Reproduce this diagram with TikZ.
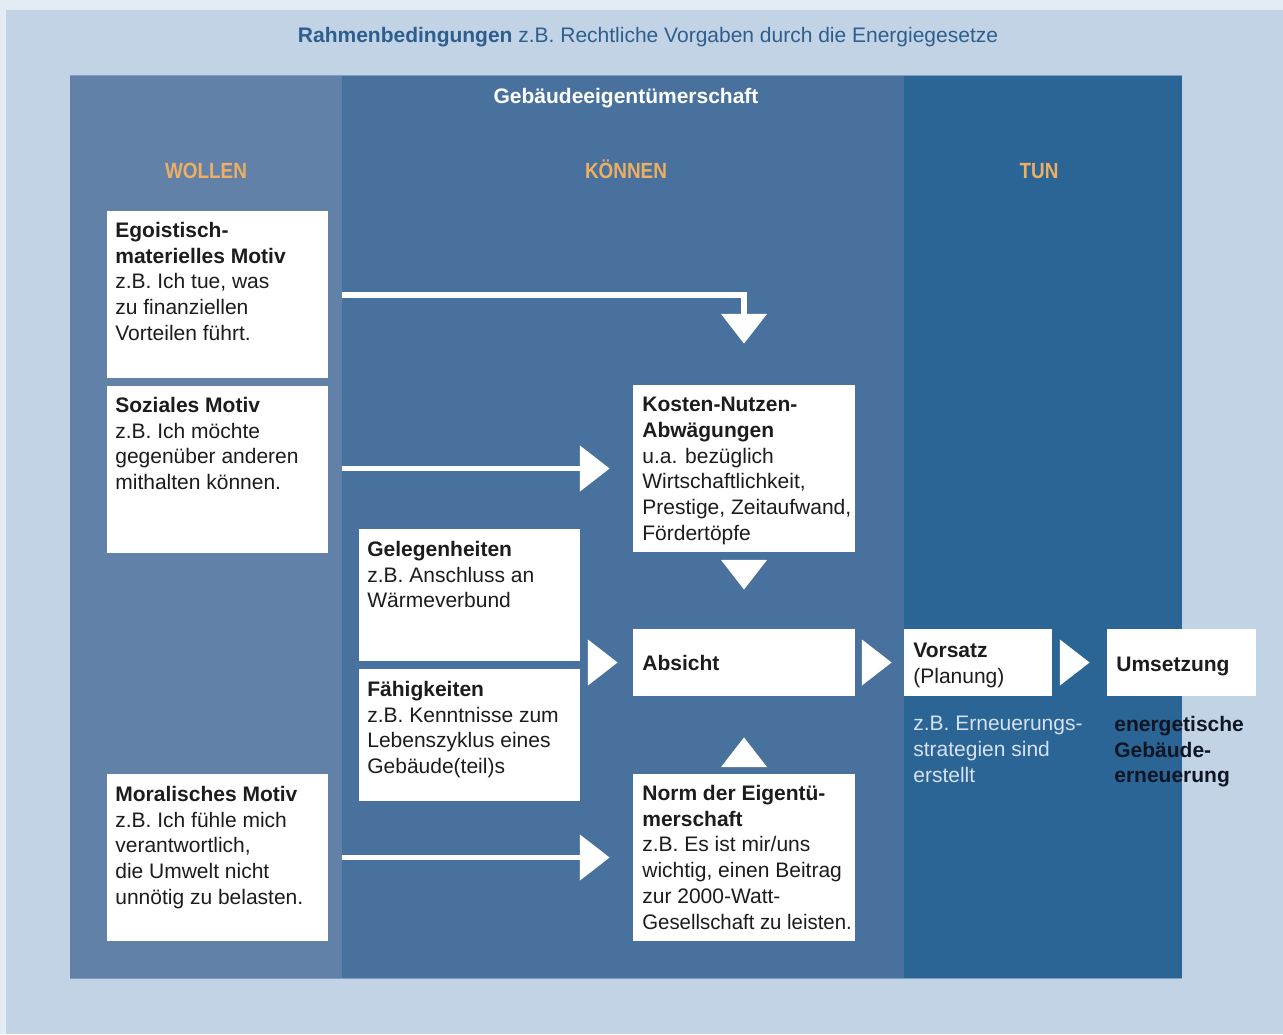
\documentclass[tikz,border=0pt]{standalone}
\usepackage{fontspec}
\setmainfont{Liberation Sans}
\usepackage{graphicx}
\usetikzlibrary{arrows.meta}
\definecolor{bgblue}{HTML}{C2D3E5}
\definecolor{toplight}{HTML}{E3ECF5}
\definecolor{colW}{HTML}{6281A9}
\definecolor{colK}{HTML}{48729D}
\definecolor{colT}{HTML}{2A6595}
\definecolor{edgeblue}{HTML}{7E9DC3}
\definecolor{orangehd}{HTML}{EEAF63}
\definecolor{titleblue}{HTML}{2E5E8E}
\definecolor{textdark}{HTML}{1C1C1C}
\definecolor{lighttext}{HTML}{D6E1EE}
\definecolor{darkbold}{HTML}{0E1624}
\newcommand\myBody{\fontsize{11.95}{14.63}\selectfont}
\newcommand\myHead{\fontsize{12.5}{15}\selectfont\bfseries}
\tikzset{
  wbox/.style={fill=white, draw=none, inner sep=0pt},
  btext/.style={anchor=north west, inner sep=0pt, align=left, font=\myBody, text=textdark},
  headtxt/.style={anchor=base, inner sep=0pt, font=\myHead, text=orangehd},
  conn/.style={draw=white, line width=3.1pt, line join=miter,
    -{Triangle[length=17pt,width=25.5pt]}},
}
\begin{document}
\begin{tikzpicture}[x=0.02cm,y=-0.02cm]
\useasboundingbox (0,0) rectangle (1283,1034);
% background
\fill[bgblue] (0,0) rectangle (1283,1034);
\fill[toplight] (0,0) rectangle (1283,10);
\fill[toplight] (0,0) rectangle (6,1034);
% columns
\fill[colW] (70,75) rectangle (342,978);
\fill[colK] (342,75) rectangle (904,978);
\fill[colT] (904,75) rectangle (1182,978);
\draw[edgeblue, line width=0.5pt] (70,75) -- (1182,75);
\draw[edgeblue, line width=0.5pt] (70,978) -- (1182,978);

% titles
\node[anchor=base, inner sep=0pt, font=\myBody, text=titleblue] (title) at (648,42.5)
  {\textbf{Rahmenbedingungen} z.B. Rechtliche Vorgaben durch die Energiegesetze};
\node[anchor=base, inner sep=0pt, font=\myBody\bfseries, text=white] (geb) at (626,103.5)
  {Gebäudeeigentümerschaft};
\node[headtxt] (hW) at (206,178) {\scalebox{0.86}[1]{WOLLEN}};
\node[headtxt] (hK) at (626,178) {\scalebox{0.86}[1]{KÖNNEN}};
\node[headtxt] (hT) at (1039,178) {\scalebox{0.86}[1]{TUN}};

% white boxes
\node[wbox, minimum width=4.42cm, minimum height=3.34cm] (ego) at (217.5,294.5) {};
\node[wbox, minimum width=4.42cm, minimum height=3.34cm] (soz) at (217.5,469.5) {};
\node[wbox, minimum width=4.42cm, minimum height=3.34cm] (mor) at (217.5,857.5) {};
\node[wbox, minimum width=4.42cm, minimum height=2.64cm] (gel) at (469.5,595) {};
\node[wbox, minimum width=4.42cm, minimum height=2.64cm] (fae) at (469.5,735) {};
\node[wbox, minimum width=4.44cm, minimum height=3.34cm] (kos) at (744,468.5) {};
\node[wbox, minimum width=4.44cm, minimum height=1.34cm] (abs) at (744,662.5) {};
\node[wbox, minimum width=4.44cm, minimum height=3.34cm] (nor) at (744,857.5) {};
\node[wbox, minimum width=2.96cm, minimum height=1.34cm] (vor) at (978,662.5) {};
\node[wbox, minimum width=2.98cm, minimum height=1.34cm] (ums) at (1181.5,662.5) {};

% box texts
\node[btext] (egoT) at (115,222) {\textbf{Egoistisch-}\\\textbf{materielles Motiv}\\z.B. Ich tue, was\\zu finanziellen\\Vorteilen führt.};
\node[btext] (sozT) at (115,397) {\textbf{Soziales Motiv}\\z.B. Ich möchte\\gegenüber anderen\\mithalten können.};
\node[btext] (morT) at (115,786) {\textbf{Moralisches Motiv}\\z.B. Ich fühle mich\\verantwortlich,\\die Umwelt nicht\\unnötig zu belasten.};
\node[btext] (gelT) at (367,541) {\textbf{Gelegenheiten}\\z.B. Anschluss an\\Wärmeverbund};
\node[btext] (faeT) at (367,681) {\textbf{Fähigkeiten}\\z.B. Kenntnisse zum\\Lebenszyklus eines\\Gebäude(teil)s};
\node[btext] (kosT) at (642,397) {\textbf{Kosten-Nutzen-}\\\textbf{Abwägungen}\\u.a. bezüglich\\Wirtschaftlichkeit,\\Prestige, Zeitaufwand,\\Fördertöpfe};
\node[btext] (absT) at (642,655) {\textbf{Absicht}};
\node[btext] (norT) at (642,785) {\textbf{Norm der Eigentü-}\\\textbf{merschaft}\\z.B. Es ist mir/uns\\wichtig, einen Beitrag\\zur 2000-Watt-\\\scalebox{0.97}[1]{Gesellschaft zu leisten.}};
\node[btext] (vorT) at (913,643) {\textbf{Vorsatz}\\(Planung)};
\node[btext] (umsT) at (1116,657) {\textbf{Umsetzung}};
\node[btext, text=lighttext] (vorN) at (913,716) {z.B. Erneuerungs-\\strategien sind\\erstellt};
\node[btext, text=darkbold, font=\myBody\bfseries] (umsN) at (1114,716) {energetische\\Gebäude-\\erneuerung};

% connector start points
\coordinate (colB) at (342,0);
\coordinate (egoS) at (342,295);
\coordinate (sozS) at (colB |- kos.west);
\coordinate (morS) at (colB |- nor.west);
\coordinate (gfS) at (gel.east |- abs.west);

% connectors
\draw[conn, shorten >=0.82cm] (egoS) -| (kos.north);
\draw[conn, shorten >=0.46cm] (sozS) -- (kos.west);
\draw[conn, shorten >=0.46cm] (morS) -- (nor.west);
\draw[conn, shorten <=0.16cm, shorten >=0.78cm] (kos.south) -- (abs.north);
\draw[conn, shorten <=0.14cm, shorten >=0.82cm] (nor.north) -- (abs.south);
\draw[conn, shorten <=0.16cm, shorten >=0.30cm] (gfS) -- (abs.west);
\draw[conn, shorten <=0.14cm, shorten >=0.24cm] (abs.east) -- (vor.west);
\draw[conn, shorten <=0.16cm, shorten >=0.34cm] (vor.east) -- (ums.west);
\end{tikzpicture}
\end{document}
